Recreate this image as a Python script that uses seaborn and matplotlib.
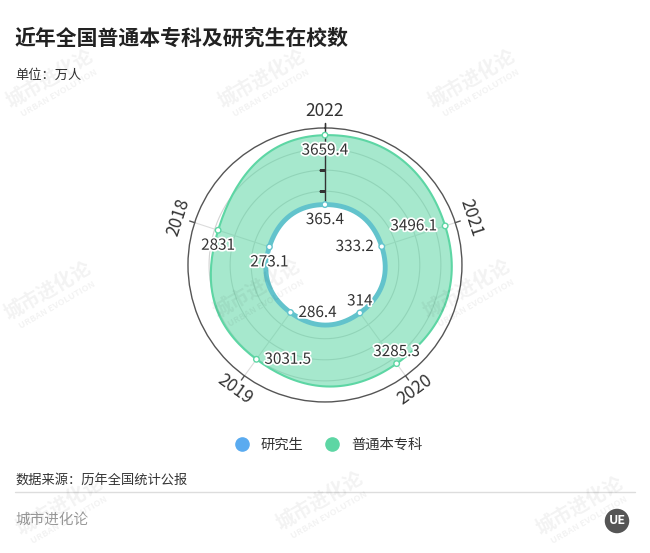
import numpy as np
import pandas as pd
import seaborn as sns
import matplotlib.pyplot as plt
from matplotlib.lines import Line2D
import matplotlib.patheffects as pe

# data, clockwise from the top axis
years = ['2022', '2021', '2020', '2019', '2018']
grad = [365.4, 333.2, 314, 286.4, 273.1]            # 研究生
undergrad = [3659.4, 3496.1, 3285.3, 3031.5, 2831]  # 普通本专科
r_min, r_max = -2500, 4000
ring_ticks = [0, 1000, 2000, 3000]

blue = '#5AABF0'
green = '#5DD6A4'

sns.set_theme(style='white')
plt.rcParams['font.family'] = ['Noto Sans CJK SC', 'DejaVu Sans']

theta = np.linspace(0, 2 * np.pi, len(years), endpoint=False)
df = pd.DataFrame({
    'theta': np.tile(theta, 2),
    'value': grad + undergrad,
    'series': ['研究生'] * len(years) + ['普通本专科'] * len(years),
})


def smooth_loop(th, vals, smooth=0.5, n=40):
    # closed bezier through the points, like a smoothed radar line
    rr = np.asarray(vals, float) - r_min
    p = np.column_stack([rr * np.sin(th), rr * np.cos(th)])
    k = len(p)

    def cps(j):
        prev, cur, nxt = p[j - 1], p[j], p[(j + 1) % k]
        v = (nxt - prev) * smooth
        d0 = np.linalg.norm(cur - prev)
        d1 = np.linalg.norm(cur - nxt)
        s = d0 + d1
        return cur - v * d0 / s, cur + v * d1 / s

    segs = []
    t = np.linspace(0, 1, n, endpoint=False)[:, None]
    for i in range(k):
        p0, p1 = p[i], p[(i + 1) % k]
        c1 = cps(i)[1]
        c2 = cps((i + 1) % k)[0]
        segs.append((1 - t) ** 3 * p0 + 3 * (1 - t) ** 2 * t * c1
                    + 3 * (1 - t) * t ** 2 * c2 + t ** 3 * p1)
    pts = np.vstack(segs + [p[:1]])
    th_s = np.unwrap(np.arctan2(pts[:, 0], pts[:, 1]))
    r_s = np.hypot(pts[:, 0], pts[:, 1]) + r_min
    return th_s, r_s


fig = plt.figure(figsize=(6.5, 5.53), dpi=100)
ax = fig.add_axes([0.2892, 0.2731, 0.4215, 0.4955], projection='polar')
ax.set_theta_zero_location('N')
ax.set_theta_direction(-1)
ax.set_ylim(r_min, r_max)
ax.grid(False)
ax.set_xticks([])
ax.set_yticks([])
ax.spines['polar'].set_color('#555555')
ax.spines['polar'].set_linewidth(1)
ax.set_facecolor('none')

# grid rings and spokes
circ = np.linspace(0, 2 * np.pi, 300)
for tk in ring_ticks:
    ax.plot(circ, np.full_like(circ, tk), color='#d2d2d2', lw=0.8, zorder=1)
for t in theta:
    ax.plot([t, t], [r_min, r_max], color='#dcdcdc', lw=0.8, zorder=1)
    ax.plot([t, t], [r_max, r_max + 250], color='#555555', lw=1, zorder=1, clip_on=False)

# areas
th_o, r_o = smooth_loop(theta, undergrad)
th_i, r_i = smooth_loop(theta, grad)
ax.fill(th_o, r_o, color=green, alpha=0.55, lw=0, zorder=2)
ax.plot(th_o, r_o, color=green, lw=1.5, zorder=5)

# first axis with ticks
ax.plot([0, 0], [r_min, r_max + 250], color='#333333', lw=1, zorder=3, clip_on=False)
ax.plot(np.zeros(3), ring_ticks[1:], ls='none', marker=0, ms=4, mew=1, color='#333333', zorder=3)

ax.fill(th_i, r_i, color='white', lw=0, zorder=4)
ax.plot(th_i, r_i, color='#62C3CC', lw=3.5, zorder=5)

sns.scatterplot(data=df, x='theta', y='value', hue='series',
                palette={'研究生': '#62C3CC', '普通本专科': green},
                s=16, linewidth=1, ax=ax, legend=False, zorder=6, clip_on=False)
coll = ax.collections[-1]
coll.set_edgecolor(coll.get_facecolor())
coll.set_facecolor('white')
ax.set_xlabel('')
ax.set_ylabel('')
ax.set_xticks([])
ax.set_yticks([])

# value labels
offsets = [((0, -15), 'center'), ((-8, 0), 'right'), ((0, 12), 'center'),
           ((8, 0), 'left'), ((0, -15), 'center')]
halo = [pe.withStroke(linewidth=2.5, foreground='white')]
for series in (grad, undergrad):
    for t, v, (off, ha) in zip(theta, series, offsets):
        ax.annotate(f'{v:g}', xy=(t, v), xytext=off, textcoords='offset pixels',
                    ha=ha, va='center', fontsize=11, color='#333333',
                    path_effects=halo, zorder=7, annotation_clip=False)

# category labels
for t, yr in zip(theta, years):
    rot = 90 - np.degrees(t) - 90
    rot = (rot + 180) % 360 - 180
    if rot < -90:
        rot += 180
    elif rot > 90:
        rot -= 180
    ax.text(t, 4800, yr, rotation=rot, rotation_mode='anchor', ha='center', va='center',
            fontsize=12.5, color='#333333', clip_on=False)

# texts
fig.text(15 / 650, 1 - 38 / 553, '近年全国普通本专科及研究生在校数', fontsize=15,
         fontweight='bold', color='#222222', va='center')
fig.text(15 / 650, 1 - 75 / 553, '单位：万人', fontsize=9.5, color='#333333', va='center')
fig.text(15 / 650, 1 - 480 / 553, '数据来源：历年全国统计公报', fontsize=9.5, color='#333333', va='center')
fig.add_artist(Line2D([15 / 650, 635 / 650], [1 - 492 / 553] * 2, color='#dddddd', lw=1))
fig.text(15 / 650, 1 - 520 / 553, '城市进化论', fontsize=10.5, color='#999999', va='center')

handles = [Line2D([], [], ls='none', marker='o', ms=9.5, color=blue),
           Line2D([], [], ls='none', marker='o', ms=9.5, color=green)]
fig.legend(handles, ['研究生', '普通本专科'], loc='center', bbox_to_anchor=(0.5, 1 - 445 / 553),
           ncol=2, frameon=False, fontsize=10.3, handletextpad=0.3, columnspacing=1.0,
           labelcolor='#333333')

# logo
fig.text(617 / 650, 1 - 521 / 553, 'UE', ha='center', va='center', color='white',
         fontsize=9, fontweight='bold',
         bbox=dict(boxstyle='circle,pad=0.3', fc='#555555', ec='none'))

# watermarks
marks = [(50, 78), (262, 78), (472, 78), (48, 290), (257, 288), (467, 288),
         (60, 505), (320, 500), (580, 505)]
for x, y in marks:
    fig.text(x / 650, 1 - y / 553, '城市进化论', rotation=30, ha='center', va='center',
             fontsize=14, fontweight='bold', color='#000000', alpha=0.05)
    fig.text((x + 9) / 650, 1 - (y + 15) / 553, 'URBAN EVOLUTION', rotation=30,
             ha='center', va='center', fontsize=6.5, fontweight='bold', color='#000000', alpha=0.05)

fig.savefig('out.png', dpi=100, facecolor='white')
